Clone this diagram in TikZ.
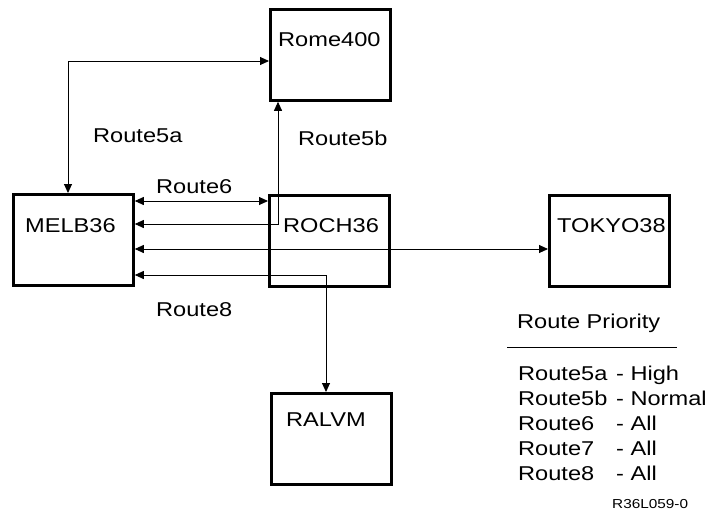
\documentclass[tikz,border=0pt]{standalone}
\usepackage{fontspec}
\setmainfont[FakeStretch=1.18]{Liberation Sans}
\usetikzlibrary{arrows.meta}
\tikzset{
  sysbox/.style={draw, line width=2.8pt, minimum width=120pt, minimum height=91pt,
                 inner sep=0pt, anchor=north west},
  txt/.style={anchor=base west, inner sep=0pt, font=\fontsize{20}{24}\selectfont},
  smalltxt/.style={anchor=base west, inner sep=0pt, font=\fontsize{13}{15}\selectfont},
  link/.style={line width=0.9pt, {Triangle[length=9pt,width=8pt]}-{Triangle[length=9pt,width=8pt]}},
}
\begin{document}
\begin{tikzpicture}[x=1pt,y=-1pt]
\useasboundingbox (0,0) rectangle (707,512);

% systems
\node[sysbox] (rome)  at (269,8)   {};
\node[sysbox] (melb)  at (12,193)  {};
\node[sysbox] (roch)  at (268,194) {};
\node[sysbox] (tokyo) at (548,194) {};
\node[sysbox] (ralvm) at (270,392) {};

\node[txt] (romename)  at ([xshift=9pt,yshift=-38pt]rome.north west)   {Rome400};
\node[txt] (melbname)  at ([xshift=13pt,yshift=-39pt]melb.north west)  {MELB36};
\node[txt] (rochname)  at ([xshift=15pt,yshift=-38pt]roch.north west)  {ROCH36};
\node[txt] (tokyoname) at ([xshift=9pt,yshift=-38pt]tokyo.north west)  {TOKYO38};
\node[txt] (ralvmname) at ([xshift=16pt,yshift=-34pt]ralvm.north west) {RALVM};

% routes
\draw[link] ([xshift=56pt]melb.north west) |- ([yshift=-53pt]rome.north west);
\draw[link] ([yshift=-31pt]melb.north east) -| ([xshift=9pt]rome.south west);
\draw[link] ([yshift=-8pt]melb.north east) -- ([yshift=-8pt]melb.north east -| roch.west);
\draw[link] ([yshift=-56pt]melb.north east) -- ([yshift=-56pt]melb.north east -| tokyo.west);
\draw[link] ([yshift=-82pt]melb.north east) -| ([xshift=56pt]ralvm.north west);

\node[txt] (r5a) at (93,142)  {Route5a};
\node[txt] (r5b) at (298,145) {Route5b};
\node[txt] (r6)  at (156,193) {Route6};
\node[txt] (r8)  at (156,316) {Route8};

% priority table
\node[txt] (prhead) at (517,328) {Route Priority};
\coordinate (ruleL) at (507,347);
\coordinate (ruleR) at (677,347);
\draw[line width=0.9pt] (ruleL) -- (ruleR);
\node[txt] (pr1) at (518,380) {\makebox[98pt][l]{Route5a}- High};
\node[txt] (pr2) at (518,405) {\makebox[98pt][l]{Route5b}- Normal};
\node[txt] (pr3) at (518,430) {\makebox[98pt][l]{Route6}- All};
\node[txt] (pr4) at (518,455) {\makebox[98pt][l]{Route7}- All};
\node[txt] (pr5) at (518,480) {\makebox[98pt][l]{Route8}- All};

\node[smalltxt] (figid) at (612,508) {R36L059-0};
\end{tikzpicture}
\end{document}
